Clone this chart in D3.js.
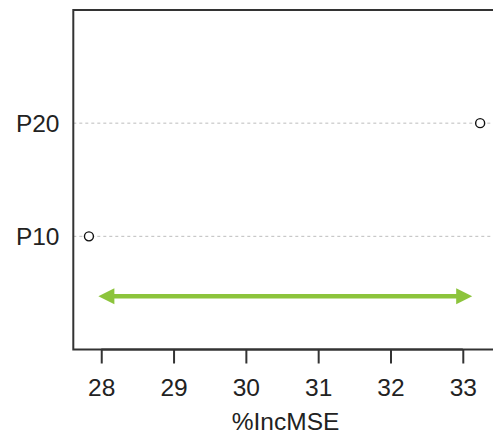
<!DOCTYPE html>
<html>
<head>
<meta charset="utf-8">
<script src="https://cdn.jsdelivr.net/npm/d3@7"></script>
<style>
html,body{margin:0;padding:0;background:#fff;}
svg{display:block;}
text{font-family:"Liberation Sans",Arial,sans-serif;fill:#222;}
</style>
</head>
<body>
<svg id="chart" width="493" height="435"></svg>
<script>
// Data
const labels = ["P10", "P20"];
const values = [27.83, 33.24];
const xTicks = [28, 29, 30, 31, 32, 33];
const xTitle = "%IncMSE";
const arrowRange = [27.96, 33.13];
const arrowLevel = 0.47;

(function () {
const svg = d3.select("#chart");
const W = 493, H = 435;
const mLeft = 73.3, mTop = 10, mBottom = 349.5, mRight = 495.8;
const fs = "24.5px";

const lo = d3.min(values), hi = d3.max(values);
const pad = (hi - lo) * 0.04;
const x = d3.scaleLinear().domain([lo - pad, hi + pad]).range([mLeft, mRight]);
const y = d3.scaleLinear().domain([0, labels.length + 1]).range([mBottom, mTop]);

// grid (dotted) lines
svg.selectAll("line.grid").data(labels).enter().append("line")
  .attr("class", "grid")
  .attr("x1", mLeft).attr("x2", W)
  .attr("y1", (d, i) => y(i + 1)).attr("y2", (d, i) => y(i + 1))
  .attr("stroke", "#bdbdbd").attr("stroke-width", 1)
  .attr("stroke-dasharray", "3,3");

// points
svg.selectAll("circle.pt").data(values).enter().append("circle")
  .attr("class", "pt")
  .attr("cx", d => x(d)).attr("cy", (d, i) => y(i + 1))
  .attr("r", 4.5)
  .attr("fill", "#fff").attr("stroke", "#111").attr("stroke-width", 1.4);

// box
svg.append("rect")
  .attr("x", mLeft).attr("y", mTop)
  .attr("width", mRight - mLeft).attr("height", mBottom - mTop)
  .attr("fill", "none").attr("stroke", "#333").attr("stroke-width", 2);

// y labels
svg.selectAll("text.ylab").data(labels).enter().append("text")
  .attr("class", "ylab")
  .attr("x", 59.5).attr("y", (d, i) => y(i + 1))
  .attr("dy", "0.36em")
  .attr("text-anchor", "end")
  .style("font-size", fs)
  .text(d => d);

// x axis
const xAxis = d3.axisBottom(x).tickValues(xTicks).tickSize(14).tickFormat(d3.format("d"));
const gx = svg.append("g").attr("transform", `translate(0,${mBottom})`).call(xAxis);
gx.select(".domain").attr("stroke", "#333").attr("stroke-width", 2)
  .attr("d", `M${x(xTicks[0])},0H${x(xTicks[xTicks.length - 1])}`);
gx.selectAll(".tick line").attr("stroke", "#333").attr("stroke-width", 2);
gx.selectAll(".tick text")
  .attr("y", 46.5).attr("dy", null)
  .style("font-size", fs).style("font-family", "Liberation Sans, Arial, sans-serif").attr("fill", "#222");

// x title
svg.append("text")
  .attr("x", (mLeft + mRight) / 2 + 1).attr("y", 430)
  .attr("text-anchor", "middle")
  .style("font-size", fs)
  .text(xTitle);

// double arrow
const green = "#8cc43c";
const ay = y(arrowLevel);
const x1 = x(arrowRange[0]), x2 = x(arrowRange[1]);
const headL = 16, headH = 8;
svg.append("line")
  .attr("x1", x1 + headL - 1).attr("x2", x2 - headL + 1)
  .attr("y1", ay).attr("y2", ay)
  .attr("stroke", green).attr("stroke-width", 4.5);
svg.append("path")
  .attr("d", `M${x1},${ay}L${x1 + headL},${ay - headH}L${x1 + headL},${ay + headH}Z`)
  .attr("fill", green);
svg.append("path")
  .attr("d", `M${x2},${ay}L${x2 - headL},${ay - headH}L${x2 - headL},${ay + headH}Z`)
  .attr("fill", green);
})();
</script>
</body>
</html>
